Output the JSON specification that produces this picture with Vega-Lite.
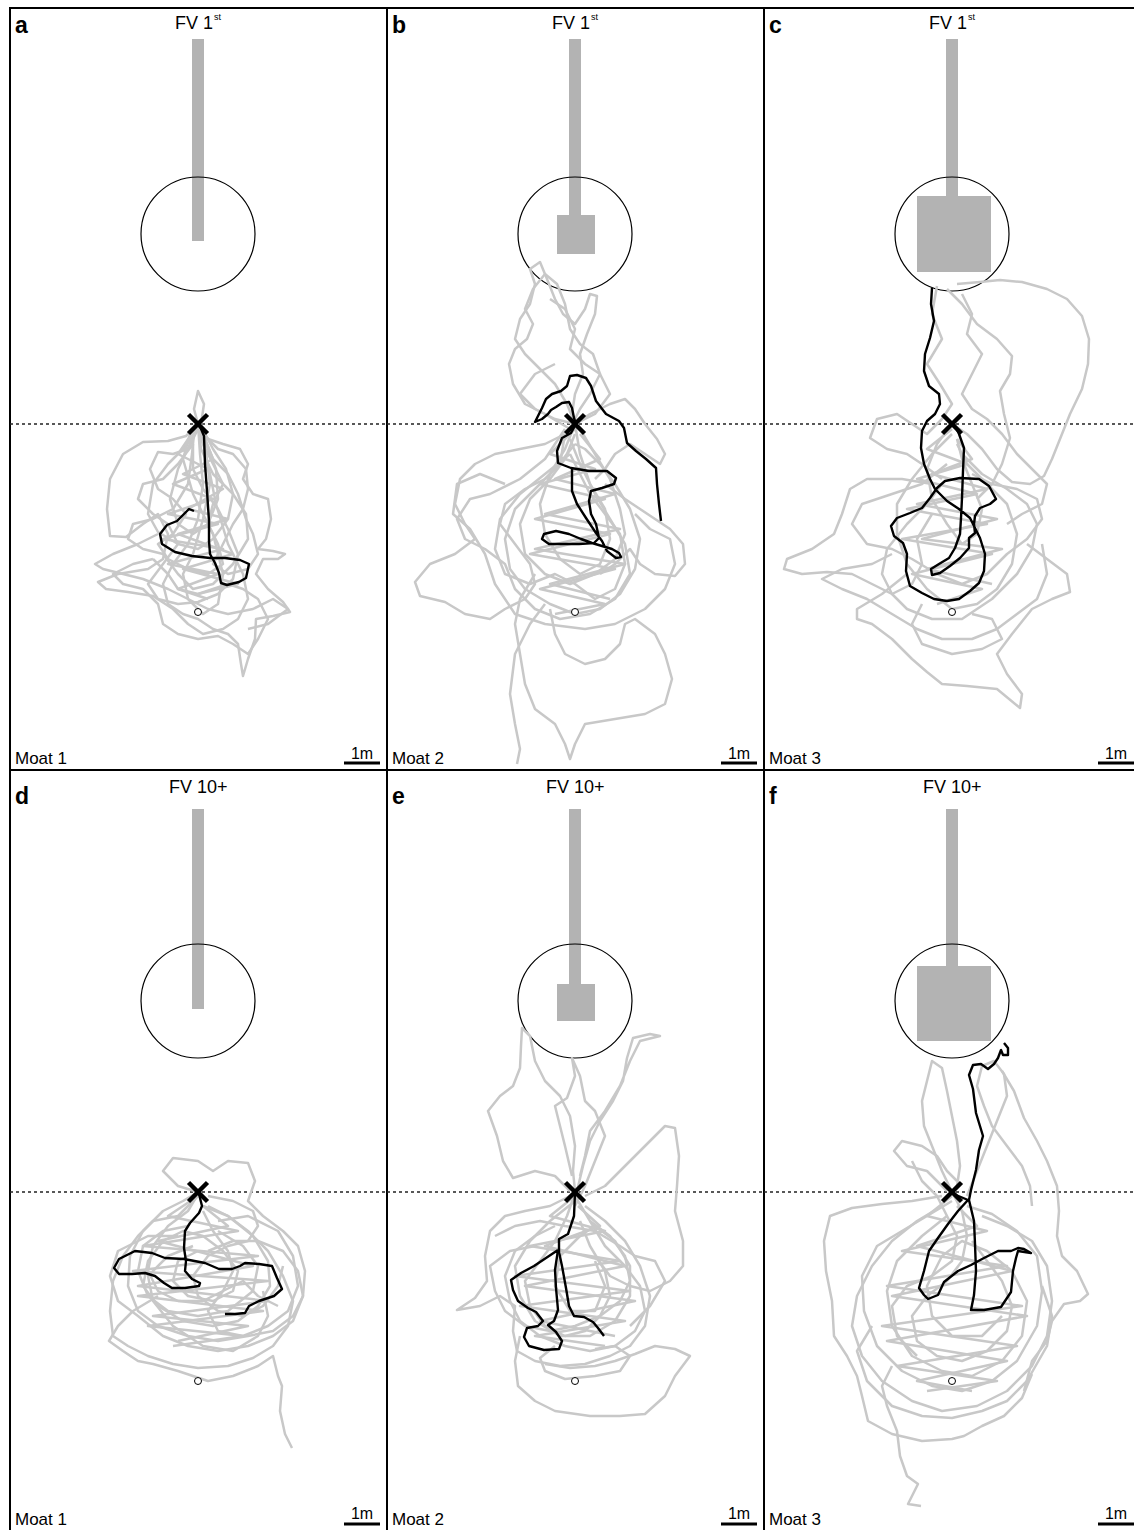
{
"$schema":"https://vega.github.io/schema/vega-lite/v6.json",
"padding":{"left":8,"top":7,"right":0,"bottom":0},
"background":"white",
"config":{"view":{"stroke":"#000","strokeWidth":2},"font":"Liberation Sans","axis":{"disable":true},"facet":{"spacing":0},"header":{"labels":false,"title":null,"labelPadding":0,"titlePadding":0,"labelFontSize":0,"titleFontSize":0}},
"data":{"values":[
{"p":"a","k":"r","x":-6,"x2":6,"y":-385,"y2":-183},
{"p":"b","k":"r","x":-6,"x2":6,"y":-385,"y2":-209},
{"p":"b","k":"r","x":-18,"x2":20,"y":-209,"y2":-170},
{"p":"c","k":"r","x":-6,"x2":6,"y":-385,"y2":-228},
{"p":"c","k":"r","x":-35,"x2":39,"y":-228,"y2":-152},
{"p":"d","k":"r","x":-6,"x2":6,"y":-377,"y2":-177},
{"p":"e","k":"r","x":-6,"x2":6,"y":-377,"y2":-202},
{"p":"e","k":"r","x":-18,"x2":20,"y":-202,"y2":-165},
{"p":"f","k":"r","x":-6,"x2":6,"y":-377,"y2":-220},
{"p":"f","k":"r","x":-35,"x2":39,"y":-220,"y2":-145},
{"p":"a","k":"c","x":0,"y":-190},{"p":"b","k":"c","x":0,"y":-190},{"p":"c","k":"c","x":0,"y":-190},
{"p":"d","k":"c","x":0,"y":-185},{"p":"e","k":"c","x":0,"y":-185},{"p":"f","k":"c","x":0,"y":-185},
{"p":"a","k":"d","x":-188,"x2":189,"y":0},{"p":"b","k":"d","x":-188,"x2":189,"y":0},{"p":"c","k":"d","x":-188,"x2":189,"y":0},
{"p":"d","k":"d","x":-188,"x2":189,"y":6},{"p":"e","k":"d","x":-188,"x2":189,"y":6},{"p":"f","k":"d","x":-188,"x2":189,"y":6},
{"p":"a","k":"x","x":0,"y":0},{"p":"b","k":"x","x":0,"y":0},{"p":"c","k":"x","x":0,"y":0},
{"p":"d","k":"x","x":0,"y":6},{"p":"e","k":"x","x":0,"y":6},{"p":"f","k":"x","x":0,"y":6},
{"p":"a","k":"o","x":0,"y":188},{"p":"b","k":"o","x":0,"y":188},{"p":"c","k":"o","x":0,"y":188},
{"p":"d","k":"o","x":0,"y":195},{"p":"e","k":"o","x":0,"y":195},{"p":"f","k":"o","x":0,"y":195},
{"p":"a","k":"s","x":146,"x2":182,"y":339},{"p":"b","k":"s","x":146,"x2":182,"y":339},{"p":"c","k":"s","x":146,"x2":182,"y":339},
{"p":"d","k":"s","x":146,"x2":182,"y":338},{"p":"e","k":"s","x":146,"x2":182,"y":338},{"p":"f","k":"s","x":146,"x2":182,"y":338},
{"p":"a","k":"L","x":-183,"y":-391,"t":"a"},{"p":"b","k":"L","x":-183,"y":-391,"t":"b"},{"p":"c","k":"L","x":-183,"y":-391,"t":"c"},
{"p":"d","k":"L","x":-183,"y":-382,"t":"d"},{"p":"e","k":"L","x":-183,"y":-382,"t":"e"},{"p":"f","k":"L","x":-183,"y":-382,"t":"f"},
{"p":"a","k":"T","x":-23,"y":-395,"t":"FV 1"},{"p":"b","k":"T","x":-23,"y":-395,"t":"FV 1"},{"p":"c","k":"T","x":-23,"y":-395,"t":"FV 1"},
{"p":"d","k":"T","x":-29,"y":-393,"t":"FV 10+"},{"p":"e","k":"T","x":-29,"y":-393,"t":"FV 10+"},{"p":"f","k":"T","x":-29,"y":-393,"t":"FV 10+"},
{"p":"a","k":"S","x":16,"y":-404,"t":"st"},{"p":"b","k":"S","x":16,"y":-404,"t":"st"},{"p":"c","k":"S","x":16,"y":-404,"t":"st"},
{"p":"a","k":"M","x":-183,"y":340,"t":"Moat 1"},{"p":"b","k":"M","x":-183,"y":340,"t":"Moat 2"},{"p":"c","k":"M","x":-183,"y":340,"t":"Moat 3"},
{"p":"d","k":"M","x":-183,"y":339,"t":"Moat 1"},{"p":"e","k":"M","x":-183,"y":339,"t":"Moat 2"},{"p":"f","k":"M","x":-183,"y":339,"t":"Moat 3"},
{"p":"a","k":"U","x":164,"y":335,"t":"1m"},{"p":"b","k":"U","x":164,"y":335,"t":"1m"},{"p":"c","k":"U","x":164,"y":335,"t":"1m"},
{"p":"d","k":"U","x":164,"y":333,"t":"1m"},{"p":"e","k":"U","x":164,"y":333,"t":"1m"},{"p":"f","k":"U","x":164,"y":333,"t":"1m"},

{"p":"a","i":1,"x":0,"y":0},{"p":"a","i":1,"x":-4,"y":-15},{"p":"a","i":1,"x":0,"y":-33},{"p":"a","i":1,"x":6,"y":-20},{"p":"a","i":1,"x":3,"y":0},{"p":"a","i":1,"x":8,"y":30},{"p":"a","i":1,"x":12,"y":60},{"p":"a","i":1,"x":5,"y":95},{"p":"a","i":1,"x":-5,"y":130},{"p":"a","i":1,"x":-15,"y":150},{"p":"a","i":1,"x":-10,"y":175},{"p":"a","i":1,"x":5,"y":190},{"p":"a","i":1,"x":20,"y":180},{"p":"a","i":1,"x":25,"y":150},{"p":"a","i":1,"x":15,"y":110},{"p":"a","i":1,"x":-5,"y":70},{"p":"a","i":1,"x":-15,"y":35},{"p":"a","i":1,"x":-8,"y":10},{"p":"a","i":1,"x":0,"y":0},
{"p":"a","i":2,"x":0,"y":0},{"p":"a","i":2,"x":-12,"y":12},{"p":"a","i":2,"x":-30,"y":17},{"p":"a","i":2,"x":-55,"y":18},{"p":"a","i":2,"x":-75,"y":30},{"p":"a","i":2,"x":-88,"y":55},{"p":"a","i":2,"x":-91,"y":85},{"p":"a","i":2,"x":-88,"y":112},{"p":"a","i":2,"x":-72,"y":113},{"p":"a","i":2,"x":-55,"y":100},{"p":"a","i":2,"x":-40,"y":90},{"p":"a","i":2,"x":-30,"y":110},{"p":"a","i":2,"x":-35,"y":135},{"p":"a","i":2,"x":-50,"y":145},{"p":"a","i":2,"x":-80,"y":150},{"p":"a","i":2,"x":-100,"y":158},{"p":"a","i":2,"x":-92,"y":165},{"p":"a","i":2,"x":-70,"y":168},{"p":"a","i":2,"x":-45,"y":172},{"p":"a","i":2,"x":-25,"y":185},{"p":"a","i":2,"x":-10,"y":200},{"p":"a","i":2,"x":5,"y":210},{"p":"a","i":2,"x":25,"y":205},{"p":"a","i":2,"x":40,"y":195},{"p":"a","i":2,"x":50,"y":175},{"p":"a","i":2,"x":45,"y":150},{"p":"a","i":2,"x":30,"y":120},{"p":"a","i":2,"x":18,"y":80},{"p":"a","i":2,"x":10,"y":40},{"p":"a","i":2,"x":3,"y":10},
{"p":"a","i":3,"x":0,"y":0},{"p":"a","i":3,"x":10,"y":15},{"p":"a","i":3,"x":25,"y":20},{"p":"a","i":3,"x":42,"y":25},{"p":"a","i":3,"x":50,"y":40},{"p":"a","i":3,"x":45,"y":55},{"p":"a","i":3,"x":55,"y":70},{"p":"a","i":3,"x":70,"y":75},{"p":"a","i":3,"x":73,"y":95},{"p":"a","i":3,"x":68,"y":115},{"p":"a","i":3,"x":60,"y":125},{"p":"a","i":3,"x":75,"y":127},{"p":"a","i":3,"x":87,"y":130},{"p":"a","i":3,"x":80,"y":135},{"p":"a","i":3,"x":65,"y":135},{"p":"a","i":3,"x":58,"y":150},{"p":"a","i":3,"x":70,"y":165},{"p":"a","i":3,"x":85,"y":178},{"p":"a","i":3,"x":92,"y":188},{"p":"a","i":3,"x":75,"y":192},{"p":"a","i":3,"x":58,"y":195},{"p":"a","i":3,"x":57,"y":215},{"p":"a","i":3,"x":50,"y":235},{"p":"a","i":3,"x":45,"y":252},{"p":"a","i":3,"x":43,"y":240},{"p":"a","i":3,"x":40,"y":220},{"p":"a","i":3,"x":30,"y":210},{"p":"a","i":3,"x":15,"y":205},{"p":"a","i":3,"x":0,"y":195},{"p":"a","i":3,"x":-15,"y":190},{"p":"a","i":3,"x":-30,"y":180},{"p":"a","i":3,"x":-35,"y":160},{"p":"a","i":3,"x":-25,"y":140},{"p":"a","i":3,"x":-10,"y":120},{"p":"a","i":3,"x":0,"y":95},{"p":"a","i":3,"x":5,"y":60},{"p":"a","i":3,"x":2,"y":30},{"p":"a","i":3,"x":0,"y":0},
{"p":"a","i":4,"x":-5,"y":20},{"p":"a","i":4,"x":-20,"y":40},{"p":"a","i":4,"x":-35,"y":55},{"p":"a","i":4,"x":-55,"y":60},{"p":"a","i":4,"x":-60,"y":75},{"p":"a","i":4,"x":-45,"y":90},{"p":"a","i":4,"x":-30,"y":100},{"p":"a","i":4,"x":-20,"y":120},{"p":"a","i":4,"x":-35,"y":140},{"p":"a","i":4,"x":-50,"y":160},{"p":"a","i":4,"x":-40,"y":175},{"p":"a","i":4,"x":-20,"y":180},{"p":"a","i":4,"x":0,"y":178},{"p":"a","i":4,"x":20,"y":170},{"p":"a","i":4,"x":35,"y":155},{"p":"a","i":4,"x":40,"y":130},{"p":"a","i":4,"x":30,"y":105},{"p":"a","i":4,"x":20,"y":85},{"p":"a","i":4,"x":5,"y":65},{"p":"a","i":4,"x":-5,"y":45},{"p":"a","i":4,"x":-5,"y":20},
{"p":"a","i":5,"x":-45,"y":135},{"p":"a","i":5,"x":-65,"y":140},{"p":"a","i":5,"x":-85,"y":150},{"p":"a","i":5,"x":-75,"y":160},{"p":"a","i":5,"x":-55,"y":165},{"p":"a","i":5,"x":-40,"y":180},{"p":"a","i":5,"x":-35,"y":200},{"p":"a","i":5,"x":-20,"y":210},{"p":"a","i":5,"x":0,"y":215},{"p":"a","i":5,"x":20,"y":212},{"p":"a","i":5,"x":35,"y":220},{"p":"a","i":5,"x":50,"y":230},{"p":"a","i":5,"x":60,"y":215},{"p":"a","i":5,"x":70,"y":195},{"p":"a","i":5,"x":60,"y":175},{"p":"a","i":5,"x":45,"y":165},{"p":"a","i":5,"x":30,"y":160},{"p":"a","i":5,"x":15,"y":165},{"p":"a","i":5,"x":0,"y":170},{"p":"a","i":5,"x":-20,"y":165},{"p":"a","i":5,"x":-30,"y":150},{"p":"a","i":5,"x":-45,"y":135},
{"p":"a","i":6,"x":5,"y":10},{"p":"a","i":6,"x":20,"y":25},{"p":"a","i":6,"x":35,"y":30},{"p":"a","i":6,"x":48,"y":45},{"p":"a","i":6,"x":50,"y":65},{"p":"a","i":6,"x":45,"y":85},{"p":"a","i":6,"x":35,"y":100},{"p":"a","i":6,"x":25,"y":120},{"p":"a","i":6,"x":15,"y":140},{"p":"a","i":6,"x":30,"y":150},{"p":"a","i":6,"x":50,"y":145},{"p":"a","i":6,"x":60,"y":130},{"p":"a","i":6,"x":55,"y":110},{"p":"a","i":6,"x":48,"y":95},{"p":"a","i":6,"x":40,"y":70},{"p":"a","i":6,"x":30,"y":50},{"p":"a","i":6,"x":15,"y":35},{"p":"a","i":6,"x":5,"y":10},
{"p":"a","i":7,"x":0,"y":5},{"p":"a","i":7,"x":-10,"y":25},{"p":"a","i":7,"x":-25,"y":30},{"p":"a","i":7,"x":-40,"y":28},{"p":"a","i":7,"x":-48,"y":45},{"p":"a","i":7,"x":-40,"y":65},{"p":"a","i":7,"x":-25,"y":75},{"p":"a","i":7,"x":-12,"y":90},{"p":"a","i":7,"x":-25,"y":110},{"p":"a","i":7,"x":-40,"y":120},{"p":"a","i":7,"x":-30,"y":135},{"p":"a","i":7,"x":-10,"y":145},{"p":"a","i":7,"x":10,"y":150},{"p":"a","i":7,"x":25,"y":140},{"p":"a","i":7,"x":20,"y":120},{"p":"a","i":7,"x":10,"y":100},{"p":"a","i":7,"x":15,"y":80},{"p":"a","i":7,"x":25,"y":60},{"p":"a","i":7,"x":15,"y":40},{"p":"a","i":7,"x":5,"y":20},{"p":"a","i":7,"x":0,"y":5},
{"p":"a","i":8,"x":0,"y":0},{"p":"a","i":8,"x":-8,"y":20},{"p":"a","i":8,"x":-20,"y":45},{"p":"a","i":8,"x":-28,"y":75},{"p":"a","i":8,"x":-20,"y":100},{"p":"a","i":8,"x":-5,"y":110},{"p":"a","i":8,"x":10,"y":100},{"p":"a","i":8,"x":20,"y":75},{"p":"a","i":8,"x":18,"y":45},{"p":"a","i":8,"x":8,"y":20},{"p":"a","i":8,"x":0,"y":0},
{"p":"a","i":9,"x":2,"y":0},{"p":"a","i":9,"x":15,"y":25},{"p":"a","i":9,"x":28,"y":45},{"p":"a","i":9,"x":35,"y":70},{"p":"a","i":9,"x":30,"y":95},{"p":"a","i":9,"x":15,"y":115},{"p":"a","i":9,"x":0,"y":125},{"p":"a","i":9,"x":-20,"y":120},{"p":"a","i":9,"x":-40,"y":108},{"p":"a","i":9,"x":-50,"y":90},{"p":"a","i":9,"x":-45,"y":60},{"p":"a","i":9,"x":-30,"y":40},{"p":"a","i":9,"x":-12,"y":22},{"p":"a","i":9,"x":0,"y":5},
{"p":"a","i":10,"x":-40,"y":110},{"p":"a","i":10,"x":-60,"y":120},{"p":"a","i":10,"x":-85,"y":130},{"p":"a","i":10,"x":-103,"y":140},{"p":"a","i":10,"x":-95,"y":145},{"p":"a","i":10,"x":-75,"y":150},{"p":"a","i":10,"x":-55,"y":155},{"p":"a","i":10,"x":-30,"y":165},{"p":"a","i":10,"x":-10,"y":175},{"p":"a","i":10,"x":10,"y":185},{"p":"a","i":10,"x":30,"y":190},{"p":"a","i":10,"x":55,"y":185},{"p":"a","i":10,"x":75,"y":175},{"p":"a","i":10,"x":90,"y":185},{"p":"a","i":10,"x":70,"y":200},{"p":"a","i":10,"x":50,"y":205},
{"p":"a","i":11,"x":-3,"y":0},{"p":"a","i":11,"x":-6,"y":30},{"p":"a","i":11,"x":-10,"y":60},{"p":"a","i":11,"x":-25,"y":85},{"p":"a","i":11,"x":-45,"y":95},{"p":"a","i":11,"x":-65,"y":100},{"p":"a","i":11,"x":-70,"y":115},{"p":"a","i":11,"x":-55,"y":125},{"p":"a","i":11,"x":-35,"y":130},{"p":"a","i":11,"x":-20,"y":150},{"p":"a","i":11,"x":-5,"y":165},{"p":"a","i":11,"x":15,"y":160},{"p":"a","i":11,"x":35,"y":140},{"p":"a","i":11,"x":50,"y":115},{"p":"a","i":11,"x":48,"y":90},{"p":"a","i":11,"x":35,"y":70},{"p":"a","i":11,"x":15,"y":50},{"p":"a","i":11,"x":3,"y":25},{"p":"a","i":11,"x":0,"y":0},
{"p":"a","i":20,"x":-3,"y":5},{"p":"a","i":20,"x":-20,"y":30},{"p":"a","i":20,"x":10,"y":45},{"p":"a","i":20,"x":-25,"y":60},{"p":"a","i":20,"x":15,"y":75},{"p":"a","i":20,"x":-30,"y":90},{"p":"a","i":20,"x":20,"y":100},{"p":"a","i":20,"x":-35,"y":115},{"p":"a","i":20,"x":25,"y":125},{"p":"a","i":20,"x":-30,"y":140},{"p":"a","i":20,"x":20,"y":150},{"p":"a","i":20,"x":-20,"y":165},{"p":"a","i":20,"x":10,"y":175},
{"p":"a","i":21,"x":3,"y":5},{"p":"a","i":21,"x":15,"y":35},{"p":"a","i":21,"x":-15,"y":50},{"p":"a","i":21,"x":25,"y":65},{"p":"a","i":21,"x":-10,"y":85},{"p":"a","i":21,"x":30,"y":95},{"p":"a","i":21,"x":-20,"y":110},{"p":"a","i":21,"x":35,"y":130},{"p":"a","i":21,"x":-15,"y":145},{"p":"a","i":21,"x":40,"y":160},{"p":"a","i":21,"x":0,"y":170},
{"p":"a","i":0,"x":1,"y":0},{"p":"a","i":0,"x":6,"y":12},{"p":"a","i":0,"x":7,"y":40},{"p":"a","i":0,"x":9,"y":67},{"p":"a","i":0,"x":11,"y":97},{"p":"a","i":0,"x":11,"y":117},{"p":"a","i":0,"x":12,"y":130},{"p":"a","i":0,"x":17,"y":139},{"p":"a","i":0,"x":21,"y":149},{"p":"a","i":0,"x":23,"y":159},{"p":"a","i":0,"x":29,"y":161},{"p":"a","i":0,"x":41,"y":158},{"p":"a","i":0,"x":48,"y":154},{"p":"a","i":0,"x":51,"y":140},{"p":"a","i":0,"x":42,"y":136},{"p":"a","i":0,"x":27,"y":134},{"p":"a","i":0,"x":12,"y":134},{"p":"a","i":0,"x":-6,"y":132},{"p":"a","i":0,"x":-23,"y":128},{"p":"a","i":0,"x":-36,"y":120},{"p":"a","i":0,"x":-38,"y":110},{"p":"a","i":0,"x":-31,"y":101},{"p":"a","i":0,"x":-21,"y":97},{"p":"a","i":0,"x":-14,"y":90},{"p":"a","i":0,"x":-9,"y":85},{"p":"a","i":0,"x":-4,"y":87},

{"p":"b","i":1,"x":0,"y":0},{"p":"b","i":1,"x":-8,"y":-20},{"p":"b","i":1,"x":-20,"y":-40},{"p":"b","i":1,"x":-35,"y":-55},{"p":"b","i":1,"x":-50,"y":-70},{"p":"b","i":1,"x":-60,"y":-85},{"p":"b","i":1,"x":-55,"y":-105},{"p":"b","i":1,"x":-45,"y":-120},{"p":"b","i":1,"x":-40,"y":-140},{"p":"b","i":1,"x":-45,"y":-155},{"p":"b","i":1,"x":-35,"y":-162},{"p":"b","i":1,"x":-28,"y":-145},{"p":"b","i":1,"x":-20,"y":-125},{"p":"b","i":1,"x":-12,"y":-110},{"p":"b","i":1,"x":0,"y":-100},{"p":"b","i":1,"x":10,"y":-115},{"p":"b","i":1,"x":15,"y":-130},{"p":"b","i":1,"x":22,"y":-128},{"p":"b","i":1,"x":20,"y":-110},{"p":"b","i":1,"x":12,"y":-90},{"p":"b","i":1,"x":5,"y":-70},{"p":"b","i":1,"x":8,"y":-50},{"p":"b","i":1,"x":0,"y":-30},{"p":"b","i":1,"x":-3,"y":-10},{"p":"b","i":1,"x":0,"y":0},
{"p":"b","i":2,"x":-5,"y":5},{"p":"b","i":2,"x":-30,"y":-10},{"p":"b","i":2,"x":-50,"y":-20},{"p":"b","i":2,"x":-62,"y":-40},{"p":"b","i":2,"x":-66,"y":-60},{"p":"b","i":2,"x":-60,"y":-75},{"p":"b","i":2,"x":-48,"y":-85},{"p":"b","i":2,"x":-42,"y":-100},{"p":"b","i":2,"x":-50,"y":-115},{"p":"b","i":2,"x":-42,"y":-135},{"p":"b","i":2,"x":-30,"y":-150},{"p":"b","i":2,"x":-18,"y":-140},{"p":"b","i":2,"x":-10,"y":-120},{"p":"b","i":2,"x":-5,"y":-95},{"p":"b","i":2,"x":5,"y":-80},{"p":"b","i":2,"x":18,"y":-70},{"p":"b","i":2,"x":25,"y":-50},{"p":"b","i":2,"x":15,"y":-30},{"p":"b","i":2,"x":5,"y":-15},{"p":"b","i":2,"x":-5,"y":5},
{"p":"b","i":3,"x":0,"y":0},{"p":"b","i":3,"x":15,"y":-10},{"p":"b","i":3,"x":35,"y":-20},{"p":"b","i":3,"x":50,"y":-25},{"p":"b","i":3,"x":60,"y":-15},{"p":"b","i":3,"x":70,"y":0},{"p":"b","i":3,"x":82,"y":15},{"p":"b","i":3,"x":90,"y":30},{"p":"b","i":3,"x":85,"y":40},{"p":"b","i":3,"x":70,"y":30},{"p":"b","i":3,"x":55,"y":20},{"p":"b","i":3,"x":40,"y":30},{"p":"b","i":3,"x":30,"y":45},{"p":"b","i":3,"x":20,"y":55},
{"p":"b","i":4,"x":-10,"y":10},{"p":"b","i":4,"x":-30,"y":20},{"p":"b","i":4,"x":-55,"y":25},{"p":"b","i":4,"x":-80,"y":30},{"p":"b","i":4,"x":-100,"y":40},{"p":"b","i":4,"x":-115,"y":55},{"p":"b","i":4,"x":-120,"y":80},{"p":"b","i":4,"x":-110,"y":100},{"p":"b","i":4,"x":-100,"y":115},{"p":"b","i":4,"x":-120,"y":130},{"p":"b","i":4,"x":-145,"y":140},{"p":"b","i":4,"x":-160,"y":158},{"p":"b","i":4,"x":-155,"y":172},{"p":"b","i":4,"x":-130,"y":178},{"p":"b","i":4,"x":-110,"y":190},{"p":"b","i":4,"x":-85,"y":195},{"p":"b","i":4,"x":-70,"y":185},{"p":"b","i":4,"x":-50,"y":175},{"p":"b","i":4,"x":-40,"y":160},{"p":"b","i":4,"x":-45,"y":140},{"p":"b","i":4,"x":-60,"y":120},{"p":"b","i":4,"x":-75,"y":100},{"p":"b","i":4,"x":-70,"y":80},{"p":"b","i":4,"x":-50,"y":65},{"p":"b","i":4,"x":-30,"y":55},{"p":"b","i":4,"x":-15,"y":40},{"p":"b","i":4,"x":-10,"y":10},
{"p":"b","i":5,"x":0,"y":20},{"p":"b","i":5,"x":-20,"y":45},{"p":"b","i":5,"x":-40,"y":65},{"p":"b","i":5,"x":-60,"y":85},{"p":"b","i":5,"x":-70,"y":115},{"p":"b","i":5,"x":-65,"y":145},{"p":"b","i":5,"x":-50,"y":165},{"p":"b","i":5,"x":-25,"y":180},{"p":"b","i":5,"x":0,"y":190},{"p":"b","i":5,"x":25,"y":185},{"p":"b","i":5,"x":45,"y":170},{"p":"b","i":5,"x":60,"y":145},{"p":"b","i":5,"x":65,"y":115},{"p":"b","i":5,"x":55,"y":85},{"p":"b","i":5,"x":40,"y":60},{"p":"b","i":5,"x":25,"y":40},{"p":"b","i":5,"x":10,"y":25},{"p":"b","i":5,"x":0,"y":20},
{"p":"b","i":6,"x":-5,"y":30},{"p":"b","i":6,"x":-30,"y":50},{"p":"b","i":6,"x":-55,"y":70},{"p":"b","i":6,"x":-75,"y":95},{"p":"b","i":6,"x":-80,"y":125},{"p":"b","i":6,"x":-70,"y":150},{"p":"b","i":6,"x":-45,"y":160},{"p":"b","i":6,"x":-20,"y":150},{"p":"b","i":6,"x":0,"y":160},{"p":"b","i":6,"x":20,"y":175},{"p":"b","i":6,"x":40,"y":165},{"p":"b","i":6,"x":50,"y":140},{"p":"b","i":6,"x":45,"y":110},{"p":"b","i":6,"x":30,"y":90},{"p":"b","i":6,"x":15,"y":70},{"p":"b","i":6,"x":5,"y":50},{"p":"b","i":6,"x":-5,"y":30},
{"p":"b","i":7,"x":30,"y":60},{"p":"b","i":7,"x":50,"y":75},{"p":"b","i":7,"x":65,"y":85},{"p":"b","i":7,"x":80,"y":95},{"p":"b","i":7,"x":95,"y":105},{"p":"b","i":7,"x":108,"y":120},{"p":"b","i":7,"x":110,"y":140},{"p":"b","i":7,"x":100,"y":152},{"p":"b","i":7,"x":80,"y":150},{"p":"b","i":7,"x":65,"y":140},{"p":"b","i":7,"x":55,"y":125},{"p":"b","i":7,"x":40,"y":140},{"p":"b","i":7,"x":25,"y":150},
{"p":"b","i":8,"x":-40,"y":150},{"p":"b","i":8,"x":-55,"y":175},{"p":"b","i":8,"x":-60,"y":200},{"p":"b","i":8,"x":-55,"y":230},{"p":"b","i":8,"x":-50,"y":260},{"p":"b","i":8,"x":-40,"y":285},{"p":"b","i":8,"x":-20,"y":300},{"p":"b","i":8,"x":-10,"y":320},{"p":"b","i":8,"x":-5,"y":335},{"p":"b","i":8,"x":0,"y":320},{"p":"b","i":8,"x":10,"y":300},{"p":"b","i":8,"x":40,"y":295},{"p":"b","i":8,"x":70,"y":290},{"p":"b","i":8,"x":90,"y":280},{"p":"b","i":8,"x":97,"y":255},{"p":"b","i":8,"x":90,"y":230},{"p":"b","i":8,"x":80,"y":210},{"p":"b","i":8,"x":60,"y":195},{"p":"b","i":8,"x":50,"y":200},{"p":"b","i":8,"x":45,"y":220},{"p":"b","i":8,"x":30,"y":235},{"p":"b","i":8,"x":10,"y":240},{"p":"b","i":8,"x":-10,"y":230},{"p":"b","i":8,"x":-20,"y":210},{"p":"b","i":8,"x":-25,"y":185},
{"p":"b","i":9,"x":-30,"y":180},{"p":"b","i":9,"x":-45,"y":200},{"p":"b","i":9,"x":-60,"y":230},{"p":"b","i":9,"x":-65,"y":270},{"p":"b","i":9,"x":-60,"y":300},{"p":"b","i":9,"x":-55,"y":325},{"p":"b","i":9,"x":-58,"y":340},
{"p":"b","i":10,"x":-70,"y":60},{"p":"b","i":10,"x":-95,"y":50},{"p":"b","i":10,"x":-118,"y":60},{"p":"b","i":10,"x":-122,"y":90},{"p":"b","i":10,"x":-105,"y":105},{"p":"b","i":10,"x":-90,"y":130},{"p":"b","i":10,"x":-80,"y":160},{"p":"b","i":10,"x":-60,"y":190},{"p":"b","i":10,"x":-30,"y":200},{"p":"b","i":10,"x":10,"y":205},{"p":"b","i":10,"x":40,"y":200},{"p":"b","i":10,"x":70,"y":185},{"p":"b","i":10,"x":90,"y":165},{"p":"b","i":10,"x":100,"y":140},{"p":"b","i":10,"x":95,"y":115},{"p":"b","i":10,"x":75,"y":105},{"p":"b","i":10,"x":60,"y":90},
{"p":"b","i":11,"x":0,"y":0},{"p":"b","i":11,"x":-10,"y":25},{"p":"b","i":11,"x":-25,"y":50},{"p":"b","i":11,"x":-35,"y":80},{"p":"b","i":11,"x":-30,"y":110},{"p":"b","i":11,"x":-15,"y":135},{"p":"b","i":11,"x":5,"y":150},{"p":"b","i":11,"x":25,"y":140},{"p":"b","i":11,"x":35,"y":115},{"p":"b","i":11,"x":30,"y":85},{"p":"b","i":11,"x":15,"y":60},{"p":"b","i":11,"x":5,"y":30},{"p":"b","i":11,"x":0,"y":0},
{"p":"b","i":12,"x":-10,"y":5},{"p":"b","i":12,"x":-30,"y":35},{"p":"b","i":12,"x":-55,"y":55},{"p":"b","i":12,"x":-85,"y":70},{"p":"b","i":12,"x":-105,"y":75},{"p":"b","i":12,"x":-118,"y":95},{"p":"b","i":12,"x":-110,"y":115},{"p":"b","i":12,"x":-90,"y":125},{"p":"b","i":12,"x":-70,"y":140},{"p":"b","i":12,"x":-60,"y":165},{"p":"b","i":12,"x":-40,"y":185},{"p":"b","i":12,"x":-15,"y":195},{"p":"b","i":12,"x":15,"y":190},{"p":"b","i":12,"x":40,"y":175},{"p":"b","i":12,"x":55,"y":150},{"p":"b","i":12,"x":50,"y":120},{"p":"b","i":12,"x":35,"y":95},{"p":"b","i":12,"x":20,"y":70},{"p":"b","i":12,"x":5,"y":40},{"p":"b","i":12,"x":-5,"y":15},
{"p":"b","i":13,"x":5,"y":5},{"p":"b","i":13,"x":20,"y":30},{"p":"b","i":13,"x":35,"y":55},{"p":"b","i":13,"x":45,"y":85},{"p":"b","i":13,"x":50,"y":110},{"p":"b","i":13,"x":40,"y":135},{"p":"b","i":13,"x":20,"y":150},{"p":"b","i":13,"x":-5,"y":160},{"p":"b","i":13,"x":-30,"y":150},{"p":"b","i":13,"x":-50,"y":130},{"p":"b","i":13,"x":-55,"y":100},{"p":"b","i":13,"x":-45,"y":75},{"p":"b","i":13,"x":-25,"y":55},{"p":"b","i":13,"x":-10,"y":35},{"p":"b","i":13,"x":0,"y":10},
{"p":"b","i":14,"x":-20,"y":-60},{"p":"b","i":14,"x":-40,"y":-50},{"p":"b","i":14,"x":-55,"y":-30},{"p":"b","i":14,"x":-40,"y":-15},{"p":"b","i":14,"x":-20,"y":-5},{"p":"b","i":14,"x":0,"y":0},{"p":"b","i":14,"x":20,"y":-10},{"p":"b","i":14,"x":35,"y":-30},{"p":"b","i":14,"x":25,"y":-50},{"p":"b","i":14,"x":10,"y":-60},{"p":"b","i":14,"x":-5,"y":-75},{"p":"b","i":14,"x":0,"y":-95},{"p":"b","i":14,"x":-10,"y":-115},{"p":"b","i":14,"x":-25,"y":-125},
{"p":"b","i":20,"x":0,"y":5},{"p":"b","i":20,"x":-25,"y":30},{"p":"b","i":20,"x":20,"y":45},{"p":"b","i":20,"x":-35,"y":60},{"p":"b","i":20,"x":30,"y":75},{"p":"b","i":20,"x":-40,"y":95},{"p":"b","i":20,"x":35,"y":110},{"p":"b","i":20,"x":-45,"y":130},{"p":"b","i":20,"x":40,"y":145},{"p":"b","i":20,"x":-35,"y":165},{"p":"b","i":20,"x":30,"y":180},{"p":"b","i":20,"x":-20,"y":190},
{"p":"b","i":21,"x":5,"y":10},{"p":"b","i":21,"x":25,"y":35},{"p":"b","i":21,"x":-20,"y":55},{"p":"b","i":21,"x":40,"y":70},{"p":"b","i":21,"x":-30,"y":90},{"p":"b","i":21,"x":45,"y":105},{"p":"b","i":21,"x":-40,"y":125},{"p":"b","i":21,"x":50,"y":140},{"p":"b","i":21,"x":-25,"y":160},{"p":"b","i":21,"x":35,"y":175},
{"p":"b","i":0,"x":86,"y":97},{"p":"b","i":0,"x":84,"y":80},{"p":"b","i":0,"x":82,"y":60},{"p":"b","i":0,"x":81,"y":44},{"p":"b","i":0,"x":71,"y":35},{"p":"b","i":0,"x":61,"y":27},{"p":"b","i":0,"x":52,"y":19},{"p":"b","i":0,"x":49,"y":4},{"p":"b","i":0,"x":44,"y":-3},{"p":"b","i":0,"x":31,"y":-10},{"p":"b","i":0,"x":21,"y":-23},{"p":"b","i":0,"x":16,"y":-38},{"p":"b","i":0,"x":11,"y":-46},{"p":"b","i":0,"x":2,"y":-49},{"p":"b","i":0,"x":-5,"y":-48},{"p":"b","i":0,"x":-8,"y":-38},{"p":"b","i":0,"x":-14,"y":-33},{"p":"b","i":0,"x":-23,"y":-30},{"p":"b","i":0,"x":-29,"y":-25},{"p":"b","i":0,"x":-33,"y":-16},{"p":"b","i":0,"x":-36,"y":-10},{"p":"b","i":0,"x":-40,"y":-2},{"p":"b","i":0,"x":-33,"y":-5},{"p":"b","i":0,"x":-27,"y":-10},{"p":"b","i":0,"x":-24,"y":-14},{"p":"b","i":0,"x":-19,"y":-17},{"p":"b","i":0,"x":-13,"y":-21},{"p":"b","i":0,"x":-6,"y":-22},{"p":"b","i":0,"x":-3,"y":-16},{"p":"b","i":0,"x":-1,"y":-6},{"p":"b","i":0,"x":1,"y":0},{"p":"b","i":0,"x":-4,"y":9},{"p":"b","i":0,"x":-13,"y":14},{"p":"b","i":0,"x":-18,"y":27},{"p":"b","i":0,"x":-17,"y":39},{"p":"b","i":0,"x":-4,"y":44},{"p":"b","i":0,"x":14,"y":47},{"p":"b","i":0,"x":32,"y":47},{"p":"b","i":0,"x":41,"y":54},{"p":"b","i":0,"x":39,"y":60},{"p":"b","i":0,"x":27,"y":64},{"p":"b","i":0,"x":16,"y":67},{"p":"b","i":0,"x":14,"y":77},{"p":"b","i":0,"x":16,"y":90},{"p":"b","i":0,"x":21,"y":100},{"p":"b","i":0,"x":24,"y":114},{"p":"b","i":0,"x":19,"y":119},{"p":"b","i":0,"x":4,"y":120},{"p":"b","i":0,"x":-13,"y":120},{"p":"b","i":0,"x":-26,"y":120},{"p":"b","i":0,"x":-33,"y":115},{"p":"b","i":0,"x":-31,"y":110},{"p":"b","i":0,"x":-19,"y":107},{"p":"b","i":0,"x":-6,"y":110},{"p":"b","i":0,"x":6,"y":115},{"p":"b","i":0,"x":17,"y":119},{"p":"b","i":0,"x":27,"y":122},{"p":"b","i":0,"x":37,"y":125},{"p":"b","i":0,"x":44,"y":129},{"p":"b","i":0,"x":46,"y":133},{"p":"b","i":0,"x":41,"y":134},{"p":"b","i":0,"x":32,"y":127},{"p":"b","i":0,"x":27,"y":117},{"p":"b","i":0,"x":21,"y":109},{"p":"b","i":0,"x":11,"y":94},{"p":"b","i":0,"x":2,"y":80},{"p":"b","i":0,"x":-3,"y":67},{"p":"b","i":0,"x":-3,"y":54},{"p":"b","i":0,"x":-3,"y":44},

{"p":"c","i":1,"x":5,"y":-140},{"p":"c","i":1,"x":28,"y":-142},{"p":"c","i":1,"x":48,"y":-144},{"p":"c","i":1,"x":70,"y":-142},{"p":"c","i":1,"x":95,"y":-135},{"p":"c","i":1,"x":115,"y":-125},{"p":"c","i":1,"x":130,"y":-108},{"p":"c","i":1,"x":137,"y":-85},{"p":"c","i":1,"x":136,"y":-60},{"p":"c","i":1,"x":130,"y":-35},{"p":"c","i":1,"x":118,"y":-10},{"p":"c","i":1,"x":108,"y":15},{"p":"c","i":1,"x":100,"y":35},{"p":"c","i":1,"x":92,"y":52},{"p":"c","i":1,"x":78,"y":60},{"p":"c","i":1,"x":60,"y":58},{"p":"c","i":1,"x":45,"y":45},{"p":"c","i":1,"x":30,"y":25},{"p":"c","i":1,"x":15,"y":10},{"p":"c","i":1,"x":0,"y":0},
{"p":"c","i":2,"x":-5,"y":-135},{"p":"c","i":2,"x":10,"y":-120},{"p":"c","i":2,"x":25,"y":-100},{"p":"c","i":2,"x":45,"y":-85},{"p":"c","i":2,"x":60,"y":-68},{"p":"c","i":2,"x":58,"y":-50},{"p":"c","i":2,"x":48,"y":-33},{"p":"c","i":2,"x":52,"y":-10},{"p":"c","i":2,"x":58,"y":14},{"p":"c","i":2,"x":50,"y":40},{"p":"c","i":2,"x":40,"y":60},{"p":"c","i":2,"x":25,"y":75},
{"p":"c","i":3,"x":-15,"y":-138},{"p":"c","i":3,"x":-20,"y":-110},{"p":"c","i":3,"x":-10,"y":-85},{"p":"c","i":3,"x":-25,"y":-60},{"p":"c","i":3,"x":-12,"y":-40},{"p":"c","i":3,"x":0,"y":-20},{"p":"c","i":3,"x":-10,"y":-5},{"p":"c","i":3,"x":-25,"y":10},{"p":"c","i":3,"x":-40,"y":0},{"p":"c","i":3,"x":-55,"y":-10},{"p":"c","i":3,"x":-75,"y":-5},{"p":"c","i":3,"x":-82,"y":14},{"p":"c","i":3,"x":-65,"y":25},{"p":"c","i":3,"x":-45,"y":30},{"p":"c","i":3,"x":-30,"y":40},{"p":"c","i":3,"x":-10,"y":55},
{"p":"c","i":4,"x":-20,"y":60},{"p":"c","i":4,"x":-50,"y":55},{"p":"c","i":4,"x":-85,"y":55},{"p":"c","i":4,"x":-102,"y":65},{"p":"c","i":4,"x":-110,"y":90},{"p":"c","i":4,"x":-118,"y":110},{"p":"c","i":4,"x":-140,"y":125},{"p":"c","i":4,"x":-165,"y":135},{"p":"c","i":4,"x":-168,"y":145},{"p":"c","i":4,"x":-150,"y":150},{"p":"c","i":4,"x":-125,"y":148},{"p":"c","i":4,"x":-100,"y":150},{"p":"c","i":4,"x":-80,"y":160},{"p":"c","i":4,"x":-60,"y":170},{"p":"c","i":4,"x":-40,"y":160},{"p":"c","i":4,"x":-30,"y":140},{"p":"c","i":4,"x":-35,"y":115},{"p":"c","i":4,"x":-20,"y":90},
{"p":"c","i":5,"x":-45,"y":150},{"p":"c","i":5,"x":-70,"y":170},{"p":"c","i":5,"x":-95,"y":185},{"p":"c","i":5,"x":-95,"y":195},{"p":"c","i":5,"x":-80,"y":200},{"p":"c","i":5,"x":-60,"y":215},{"p":"c","i":5,"x":-40,"y":235},{"p":"c","i":5,"x":-25,"y":248},{"p":"c","i":5,"x":-10,"y":260},{"p":"c","i":5,"x":15,"y":262},{"p":"c","i":5,"x":45,"y":265},{"p":"c","i":5,"x":68,"y":284},{"p":"c","i":5,"x":70,"y":270},{"p":"c","i":5,"x":55,"y":250},{"p":"c","i":5,"x":45,"y":230},{"p":"c","i":5,"x":60,"y":210},{"p":"c","i":5,"x":80,"y":185},{"p":"c","i":5,"x":100,"y":175},{"p":"c","i":5,"x":118,"y":168},{"p":"c","i":5,"x":115,"y":150},{"p":"c","i":5,"x":95,"y":135},{"p":"c","i":5,"x":75,"y":120},
{"p":"c","i":6,"x":0,"y":10},{"p":"c","i":6,"x":-20,"y":30},{"p":"c","i":6,"x":-40,"y":55},{"p":"c","i":6,"x":-55,"y":80},{"p":"c","i":6,"x":-55,"y":110},{"p":"c","i":6,"x":-45,"y":140},{"p":"c","i":6,"x":-25,"y":165},{"p":"c","i":6,"x":0,"y":185},{"p":"c","i":6,"x":25,"y":180},{"p":"c","i":6,"x":45,"y":165},{"p":"c","i":6,"x":60,"y":140},{"p":"c","i":6,"x":65,"y":110},{"p":"c","i":6,"x":55,"y":80},{"p":"c","i":6,"x":35,"y":60},{"p":"c","i":6,"x":15,"y":40},{"p":"c","i":6,"x":5,"y":20},
{"p":"c","i":7,"x":10,"y":30},{"p":"c","i":7,"x":30,"y":50},{"p":"c","i":7,"x":55,"y":65},{"p":"c","i":7,"x":75,"y":80},{"p":"c","i":7,"x":85,"y":100},{"p":"c","i":7,"x":80,"y":125},{"p":"c","i":7,"x":65,"y":150},{"p":"c","i":7,"x":40,"y":175},{"p":"c","i":7,"x":10,"y":195},{"p":"c","i":7,"x":-20,"y":195},{"p":"c","i":7,"x":-45,"y":185},{"p":"c","i":7,"x":-60,"y":170},{"p":"c","i":7,"x":-70,"y":150},{"p":"c","i":7,"x":-65,"y":125},{"p":"c","i":7,"x":-45,"y":100},{"p":"c","i":7,"x":-25,"y":80},{"p":"c","i":7,"x":-10,"y":60},
{"p":"c","i":8,"x":-30,"y":180},{"p":"c","i":8,"x":-40,"y":200},{"p":"c","i":8,"x":-30,"y":220},{"p":"c","i":8,"x":0,"y":230},{"p":"c","i":8,"x":30,"y":225},{"p":"c","i":8,"x":50,"y":215},{"p":"c","i":8,"x":40,"y":195},{"p":"c","i":8,"x":20,"y":190},
{"p":"c","i":9,"x":0,"y":0},{"p":"c","i":9,"x":-15,"y":20},{"p":"c","i":9,"x":-25,"y":45},{"p":"c","i":9,"x":-20,"y":75},{"p":"c","i":9,"x":-5,"y":100},{"p":"c","i":9,"x":10,"y":120},{"p":"c","i":9,"x":25,"y":110},{"p":"c","i":9,"x":30,"y":85},{"p":"c","i":9,"x":20,"y":60},{"p":"c","i":9,"x":10,"y":35},{"p":"c","i":9,"x":5,"y":15},
{"p":"c","i":10,"x":-5,"y":40},{"p":"c","i":10,"x":-30,"y":60},{"p":"c","i":10,"x":-60,"y":70},{"p":"c","i":10,"x":-90,"y":80},{"p":"c","i":10,"x":-100,"y":100},{"p":"c","i":10,"x":-85,"y":120},{"p":"c","i":10,"x":-60,"y":125},{"p":"c","i":10,"x":-40,"y":135},{"p":"c","i":10,"x":-15,"y":150},{"p":"c","i":10,"x":10,"y":160},{"p":"c","i":10,"x":35,"y":150},{"p":"c","i":10,"x":55,"y":130},{"p":"c","i":10,"x":75,"y":115},{"p":"c","i":10,"x":90,"y":95},{"p":"c","i":10,"x":85,"y":75},{"p":"c","i":10,"x":65,"y":65},{"p":"c","i":10,"x":40,"y":60},{"p":"c","i":10,"x":20,"y":50},
{"p":"c","i":11,"x":10,"y":-130},{"p":"c","i":11,"x":20,"y":-110},{"p":"c","i":11,"x":15,"y":-90},{"p":"c","i":11,"x":30,"y":-70},{"p":"c","i":11,"x":20,"y":-50},{"p":"c","i":11,"x":10,"y":-30},{"p":"c","i":11,"x":20,"y":-15},{"p":"c","i":11,"x":35,"y":-5},{"p":"c","i":11,"x":50,"y":10},{"p":"c","i":11,"x":65,"y":30},{"p":"c","i":11,"x":80,"y":45},{"p":"c","i":11,"x":95,"y":60},{"p":"c","i":11,"x":90,"y":80},{"p":"c","i":11,"x":70,"y":90},{"p":"c","i":11,"x":55,"y":100},
{"p":"c","i":12,"x":-60,"y":130},{"p":"c","i":12,"x":-80,"y":140},{"p":"c","i":12,"x":-110,"y":145},{"p":"c","i":12,"x":-130,"y":155},{"p":"c","i":12,"x":-110,"y":165},{"p":"c","i":12,"x":-85,"y":175},{"p":"c","i":12,"x":-60,"y":190},{"p":"c","i":12,"x":-35,"y":205},{"p":"c","i":12,"x":-10,"y":215},{"p":"c","i":12,"x":20,"y":215},{"p":"c","i":12,"x":45,"y":205},{"p":"c","i":12,"x":65,"y":190},{"p":"c","i":12,"x":85,"y":175},{"p":"c","i":12,"x":95,"y":150},{"p":"c","i":12,"x":90,"y":120},
{"p":"c","i":20,"x":0,"y":5},{"p":"c","i":20,"x":-25,"y":25},{"p":"c","i":20,"x":15,"y":40},{"p":"c","i":20,"x":-35,"y":55},{"p":"c","i":20,"x":25,"y":70},{"p":"c","i":20,"x":-45,"y":85},{"p":"c","i":20,"x":35,"y":100},{"p":"c","i":20,"x":-50,"y":115},{"p":"c","i":20,"x":40,"y":130},{"p":"c","i":20,"x":-40,"y":150},{"p":"c","i":20,"x":30,"y":165},{"p":"c","i":20,"x":-15,"y":180},
{"p":"c","i":21,"x":5,"y":15},{"p":"c","i":21,"x":20,"y":35},{"p":"c","i":21,"x":-20,"y":50},{"p":"c","i":21,"x":35,"y":65},{"p":"c","i":21,"x":-35,"y":80},{"p":"c","i":21,"x":45,"y":95},{"p":"c","i":21,"x":-30,"y":115},{"p":"c","i":21,"x":50,"y":125},{"p":"c","i":21,"x":-25,"y":145},{"p":"c","i":21,"x":40,"y":160},
{"p":"c","i":0,"x":-20,"y":-136},{"p":"c","i":0,"x":-21,"y":-120},{"p":"c","i":0,"x":-18,"y":-103},{"p":"c","i":0,"x":-22,"y":-86},{"p":"c","i":0,"x":-27,"y":-70},{"p":"c","i":0,"x":-28,"y":-53},{"p":"c","i":0,"x":-23,"y":-38},{"p":"c","i":0,"x":-13,"y":-30},{"p":"c","i":0,"x":-12,"y":-20},{"p":"c","i":0,"x":-17,"y":-10},{"p":"c","i":0,"x":-25,"y":-3},{"p":"c","i":0,"x":-30,"y":7},{"p":"c","i":0,"x":-31,"y":24},{"p":"c","i":0,"x":-28,"y":40},{"p":"c","i":0,"x":-22,"y":55},{"p":"c","i":0,"x":-17,"y":65},{"p":"c","i":0,"x":-5,"y":77},{"p":"c","i":0,"x":7,"y":85},{"p":"c","i":0,"x":18,"y":94},{"p":"c","i":0,"x":23,"y":104},{"p":"c","i":0,"x":28,"y":114},{"p":"c","i":0,"x":33,"y":130},{"p":"c","i":0,"x":32,"y":147},{"p":"c","i":0,"x":27,"y":159},{"p":"c","i":0,"x":18,"y":167},{"p":"c","i":0,"x":7,"y":175},{"p":"c","i":0,"x":-5,"y":177},{"p":"c","i":0,"x":-18,"y":175},{"p":"c","i":0,"x":-30,"y":169},{"p":"c","i":0,"x":-42,"y":162},{"p":"c","i":0,"x":-46,"y":147},{"p":"c","i":0,"x":-45,"y":130},{"p":"c","i":0,"x":-49,"y":119},{"p":"c","i":0,"x":-58,"y":112},{"p":"c","i":0,"x":-61,"y":102},{"p":"c","i":0,"x":-55,"y":94},{"p":"c","i":0,"x":-42,"y":89},{"p":"c","i":0,"x":-30,"y":84},{"p":"c","i":0,"x":-22,"y":74},{"p":"c","i":0,"x":-15,"y":64},{"p":"c","i":0,"x":-7,"y":57},{"p":"c","i":0,"x":8,"y":54},{"p":"c","i":0,"x":27,"y":55},{"p":"c","i":0,"x":37,"y":62},{"p":"c","i":0,"x":44,"y":75},{"p":"c","i":0,"x":38,"y":80},{"p":"c","i":0,"x":28,"y":84},{"p":"c","i":0,"x":23,"y":92},{"p":"c","i":0,"x":22,"y":100},{"p":"c","i":0,"x":23,"y":109},{"p":"c","i":0,"x":17,"y":114},{"p":"c","i":0,"x":17,"y":124},{"p":"c","i":0,"x":8,"y":134},{"p":"c","i":0,"x":-2,"y":142},{"p":"c","i":0,"x":-12,"y":149},{"p":"c","i":0,"x":-20,"y":151},{"p":"c","i":0,"x":-21,"y":145},{"p":"c","i":0,"x":-13,"y":140},{"p":"c","i":0,"x":-3,"y":134},{"p":"c","i":0,"x":3,"y":124},{"p":"c","i":0,"x":8,"y":110},{"p":"c","i":0,"x":9,"y":94},{"p":"c","i":0,"x":10,"y":74},{"p":"c","i":0,"x":11,"y":47},{"p":"c","i":0,"x":12,"y":24},{"p":"c","i":0,"x":7,"y":10},{"p":"c","i":0,"x":2,"y":0},

{"p":"d","i":1,"x":0,"y":6},{"p":"d","i":1,"x":-20,"y":0},{"p":"d","i":1,"x":-35,"y":-15},{"p":"d","i":1,"x":-25,"y":-28},{"p":"d","i":1,"x":0,"y":-25},{"p":"d","i":1,"x":15,"y":-15},{"p":"d","i":1,"x":30,"y":-25},{"p":"d","i":1,"x":50,"y":-23},{"p":"d","i":1,"x":57,"y":-5},{"p":"d","i":1,"x":50,"y":15},{"p":"d","i":1,"x":65,"y":30},{"p":"d","i":1,"x":85,"y":45},{"p":"d","i":1,"x":100,"y":60},{"p":"d","i":1,"x":107,"y":85},{"p":"d","i":1,"x":105,"y":110},{"p":"d","i":1,"x":95,"y":130},{"p":"d","i":1,"x":75,"y":145},{"p":"d","i":1,"x":50,"y":150},{"p":"d","i":1,"x":20,"y":155},{"p":"d","i":1,"x":-10,"y":150},{"p":"d","i":1,"x":-40,"y":140},{"p":"d","i":1,"x":-60,"y":125},{"p":"d","i":1,"x":-70,"y":100},{"p":"d","i":1,"x":-68,"y":70},{"p":"d","i":1,"x":-55,"y":45},{"p":"d","i":1,"x":-35,"y":25},{"p":"d","i":1,"x":-15,"y":15},{"p":"d","i":1,"x":0,"y":6},
{"p":"d","i":2,"x":0,"y":10},{"p":"d","i":2,"x":-20,"y":30},{"p":"d","i":2,"x":-45,"y":35},{"p":"d","i":2,"x":-60,"y":50},{"p":"d","i":2,"x":-75,"y":70},{"p":"d","i":2,"x":-85,"y":95},{"p":"d","i":2,"x":-88,"y":125},{"p":"d","i":2,"x":-85,"y":150},{"p":"d","i":2,"x":-70,"y":160},{"p":"d","i":2,"x":-50,"y":170},{"p":"d","i":2,"x":-25,"y":178},{"p":"d","i":2,"x":0,"y":182},{"p":"d","i":2,"x":30,"y":180},{"p":"d","i":2,"x":55,"y":172},{"p":"d","i":2,"x":75,"y":160},{"p":"d","i":2,"x":90,"y":140},{"p":"d","i":2,"x":95,"y":115},{"p":"d","i":2,"x":85,"y":90},{"p":"d","i":2,"x":70,"y":65},{"p":"d","i":2,"x":50,"y":45},{"p":"d","i":2,"x":30,"y":30},{"p":"d","i":2,"x":10,"y":20},
{"p":"d","i":3,"x":5,"y":20},{"p":"d","i":3,"x":30,"y":30},{"p":"d","i":3,"x":55,"y":50},{"p":"d","i":3,"x":70,"y":75},{"p":"d","i":3,"x":72,"y":100},{"p":"d","i":3,"x":60,"y":120},{"p":"d","i":3,"x":40,"y":135},{"p":"d","i":3,"x":15,"y":140},{"p":"d","i":3,"x":-15,"y":135},{"p":"d","i":3,"x":-40,"y":120},{"p":"d","i":3,"x":-55,"y":100},{"p":"d","i":3,"x":-50,"y":75},{"p":"d","i":3,"x":-35,"y":55},{"p":"d","i":3,"x":-15,"y":45},{"p":"d","i":3,"x":5,"y":50},{"p":"d","i":3,"x":25,"y":65},{"p":"d","i":3,"x":40,"y":85},{"p":"d","i":3,"x":35,"y":105},{"p":"d","i":3,"x":15,"y":115},{"p":"d","i":3,"x":-10,"y":110},{"p":"d","i":3,"x":-25,"y":95},{"p":"d","i":3,"x":-20,"y":75},{"p":"d","i":3,"x":0,"y":65},
{"p":"d","i":4,"x":-40,"y":110},{"p":"d","i":4,"x":-65,"y":125},{"p":"d","i":4,"x":-80,"y":140},{"p":"d","i":4,"x":-89,"y":155},{"p":"d","i":4,"x":-75,"y":165},{"p":"d","i":4,"x":-60,"y":175},{"p":"d","i":4,"x":-45,"y":178},{"p":"d","i":4,"x":-20,"y":185},{"p":"d","i":4,"x":10,"y":195},{"p":"d","i":4,"x":35,"y":190},{"p":"d","i":4,"x":60,"y":180},{"p":"d","i":4,"x":75,"y":170},{"p":"d","i":4,"x":80,"y":190},{"p":"d","i":4,"x":84,"y":200},{"p":"d","i":4,"x":82,"y":225},{"p":"d","i":4,"x":87,"y":248},{"p":"d","i":4,"x":94,"y":262},
{"p":"d","i":5,"x":-10,"y":40},{"p":"d","i":5,"x":-35,"y":45},{"p":"d","i":5,"x":-55,"y":60},{"p":"d","i":5,"x":-60,"y":85},{"p":"d","i":5,"x":-50,"y":110},{"p":"d","i":5,"x":-30,"y":125},{"p":"d","i":5,"x":0,"y":130},{"p":"d","i":5,"x":30,"y":125},{"p":"d","i":5,"x":55,"y":105},{"p":"d","i":5,"x":60,"y":80},{"p":"d","i":5,"x":45,"y":60},{"p":"d","i":5,"x":20,"y":45},
{"p":"d","i":6,"x":20,"y":35},{"p":"d","i":6,"x":50,"y":30},{"p":"d","i":6,"x":80,"y":45},{"p":"d","i":6,"x":95,"y":70},{"p":"d","i":6,"x":100,"y":100},{"p":"d","i":6,"x":90,"y":125},{"p":"d","i":6,"x":70,"y":140},{"p":"d","i":6,"x":45,"y":150},{"p":"d","i":6,"x":20,"y":145},{"p":"d","i":6,"x":10,"y":125},{"p":"d","i":6,"x":25,"y":105},{"p":"d","i":6,"x":45,"y":95},{"p":"d","i":6,"x":60,"y":110},{"p":"d","i":6,"x":80,"y":120},
{"p":"d","i":7,"x":-5,"y":60},{"p":"d","i":7,"x":-30,"y":70},{"p":"d","i":7,"x":-50,"y":90},{"p":"d","i":7,"x":-45,"y":115},{"p":"d","i":7,"x":-25,"y":140},{"p":"d","i":7,"x":5,"y":160},{"p":"d","i":7,"x":35,"y":165},{"p":"d","i":7,"x":60,"y":150},{"p":"d","i":7,"x":70,"y":130},{"p":"d","i":7,"x":65,"y":105},
{"p":"d","i":8,"x":0,"y":8},{"p":"d","i":8,"x":-10,"y":25},{"p":"d","i":8,"x":-30,"y":40},{"p":"d","i":8,"x":-45,"y":60},{"p":"d","i":8,"x":-50,"y":85},{"p":"d","i":8,"x":-40,"y":105},{"p":"d","i":8,"x":-20,"y":115},{"p":"d","i":8,"x":5,"y":115},{"p":"d","i":8,"x":25,"y":105},{"p":"d","i":8,"x":35,"y":85},{"p":"d","i":8,"x":30,"y":65},{"p":"d","i":8,"x":15,"y":45},{"p":"d","i":8,"x":5,"y":25},
{"p":"d","i":9,"x":-20,"y":50},{"p":"d","i":9,"x":-50,"y":50},{"p":"d","i":9,"x":-80,"y":65},{"p":"d","i":9,"x":-88,"y":90},{"p":"d","i":9,"x":-80,"y":115},{"p":"d","i":9,"x":-60,"y":130},{"p":"d","i":9,"x":-35,"y":150},{"p":"d","i":9,"x":-10,"y":160},{"p":"d","i":9,"x":20,"y":165},{"p":"d","i":9,"x":50,"y":160},{"p":"d","i":9,"x":75,"y":150},{"p":"d","i":9,"x":95,"y":135},{"p":"d","i":9,"x":105,"y":110},{"p":"d","i":9,"x":100,"y":85},{"p":"d","i":9,"x":85,"y":65},{"p":"d","i":9,"x":60,"y":55},{"p":"d","i":9,"x":35,"y":55},{"p":"d","i":9,"x":10,"y":65},
{"p":"d","i":10,"x":10,"y":10},{"p":"d","i":10,"x":35,"y":15},{"p":"d","i":10,"x":55,"y":25},{"p":"d","i":10,"x":60,"y":40},{"p":"d","i":10,"x":50,"y":55},{"p":"d","i":10,"x":30,"y":60},{"p":"d","i":10,"x":10,"y":70},{"p":"d","i":10,"x":-5,"y":90},{"p":"d","i":10,"x":0,"y":110},{"p":"d","i":10,"x":20,"y":125},{"p":"d","i":10,"x":45,"y":130},{"p":"d","i":10,"x":65,"y":120},{"p":"d","i":10,"x":80,"y":100},{"p":"d","i":10,"x":85,"y":80},
{"p":"d","i":20,"x":0,"y":10},{"p":"d","i":20,"x":-30,"y":30},{"p":"d","i":20,"x":40,"y":45},{"p":"d","i":20,"x":-55,"y":60},{"p":"d","i":20,"x":60,"y":70},{"p":"d","i":20,"x":-65,"y":85},{"p":"d","i":20,"x":70,"y":95},{"p":"d","i":20,"x":-60,"y":110},{"p":"d","i":20,"x":65,"y":125},{"p":"d","i":20,"x":-50,"y":140},{"p":"d","i":20,"x":45,"y":150},{"p":"d","i":20,"x":-25,"y":160},
{"p":"d","i":21,"x":5,"y":20},{"p":"d","i":21,"x":30,"y":40},{"p":"d","i":21,"x":-40,"y":55},{"p":"d","i":21,"x":55,"y":80},{"p":"d","i":21,"x":-60,"y":100},{"p":"d","i":21,"x":70,"y":115},{"p":"d","i":21,"x":-45,"y":130},{"p":"d","i":21,"x":50,"y":140},{"p":"d","i":21,"x":-20,"y":155},
{"p":"d","i":0,"x":1,"y":8},{"p":"d","i":0,"x":4,"y":20},{"p":"d","i":0,"x":1,"y":27},{"p":"d","i":0,"x":-8,"y":37},{"p":"d","i":0,"x":-13,"y":45},{"p":"d","i":0,"x":-14,"y":62},{"p":"d","i":0,"x":-12,"y":75},{"p":"d","i":0,"x":-13,"y":85},{"p":"d","i":0,"x":-6,"y":93},{"p":"d","i":0,"x":2,"y":97},{"p":"d","i":0,"x":1,"y":100},{"p":"d","i":0,"x":-13,"y":102},{"p":"d","i":0,"x":-26,"y":102},{"p":"d","i":0,"x":-34,"y":97},{"p":"d","i":0,"x":-43,"y":90},{"p":"d","i":0,"x":-53,"y":87},{"p":"d","i":0,"x":-66,"y":88},{"p":"d","i":0,"x":-79,"y":88},{"p":"d","i":0,"x":-84,"y":82},{"p":"d","i":0,"x":-79,"y":73},{"p":"d","i":0,"x":-63,"y":65},{"p":"d","i":0,"x":-46,"y":67},{"p":"d","i":0,"x":-33,"y":72},{"p":"d","i":0,"x":-14,"y":73},{"p":"d","i":0,"x":7,"y":77},{"p":"d","i":0,"x":21,"y":83},{"p":"d","i":0,"x":34,"y":83},{"p":"d","i":0,"x":42,"y":80},{"p":"d","i":0,"x":47,"y":77},{"p":"d","i":0,"x":61,"y":78},{"p":"d","i":0,"x":74,"y":80},{"p":"d","i":0,"x":79,"y":92},{"p":"d","i":0,"x":84,"y":103},{"p":"d","i":0,"x":76,"y":110},{"p":"d","i":0,"x":61,"y":115},{"p":"d","i":0,"x":51,"y":120},{"p":"d","i":0,"x":47,"y":127},{"p":"d","i":0,"x":37,"y":128},{"p":"d","i":0,"x":27,"y":128},

{"p":"e","i":1,"x":-5,"y":5},{"p":"e","i":1,"x":-20,"y":-10},{"p":"e","i":1,"x":-40,"y":-15},{"p":"e","i":1,"x":-62,"y":-8},{"p":"e","i":1,"x":-72,"y":-25},{"p":"e","i":1,"x":-78,"y":-50},{"p":"e","i":1,"x":-87,"y":-75},{"p":"e","i":1,"x":-75,"y":-90},{"p":"e","i":1,"x":-62,"y":-100},{"p":"e","i":1,"x":-55,"y":-118},{"p":"e","i":1,"x":-54,"y":-140},{"p":"e","i":1,"x":-53,"y":-158},{"p":"e","i":1,"x":-45,"y":-150},{"p":"e","i":1,"x":-40,"y":-125},{"p":"e","i":1,"x":-30,"y":-105},{"p":"e","i":1,"x":-15,"y":-90},{"p":"e","i":1,"x":-5,"y":-70},{"p":"e","i":1,"x":0,"y":-40},{"p":"e","i":1,"x":-2,"y":-15},{"p":"e","i":1,"x":0,"y":5},
{"p":"e","i":2,"x":2,"y":5},{"p":"e","i":2,"x":8,"y":-20},{"p":"e","i":2,"x":15,"y":-45},{"p":"e","i":2,"x":25,"y":-65},{"p":"e","i":2,"x":38,"y":-85},{"p":"e","i":2,"x":48,"y":-105},{"p":"e","i":2,"x":52,"y":-128},{"p":"e","i":2,"x":58,"y":-148},{"p":"e","i":2,"x":75,"y":-152},{"p":"e","i":2,"x":85,"y":-150},{"p":"e","i":2,"x":65,"y":-145},{"p":"e","i":2,"x":55,"y":-125},{"p":"e","i":2,"x":45,"y":-100},{"p":"e","i":2,"x":30,"y":-75},{"p":"e","i":2,"x":15,"y":-55},{"p":"e","i":2,"x":10,"y":-30},{"p":"e","i":2,"x":5,"y":-10},
{"p":"e","i":3,"x":-3,"y":-10},{"p":"e","i":3,"x":-10,"y":-40},{"p":"e","i":3,"x":-15,"y":-60},{"p":"e","i":3,"x":-20,"y":-80},{"p":"e","i":3,"x":-8,"y":-88},{"p":"e","i":3,"x":0,"y":-110},{"p":"e","i":3,"x":-3,"y":-128},{"p":"e","i":3,"x":5,"y":-110},{"p":"e","i":3,"x":10,"y":-85},{"p":"e","i":3,"x":20,"y":-75},{"p":"e","i":3,"x":30,"y":-50},{"p":"e","i":3,"x":20,"y":-25},{"p":"e","i":3,"x":10,"y":0},{"p":"e","i":3,"x":0,"y":20},
{"p":"e","i":4,"x":10,"y":10},{"p":"e","i":4,"x":30,"y":0},{"p":"e","i":4,"x":50,"y":-20},{"p":"e","i":4,"x":70,"y":-40},{"p":"e","i":4,"x":90,"y":-60},{"p":"e","i":4,"x":100,"y":-58},{"p":"e","i":4,"x":104,"y":-30},{"p":"e","i":4,"x":102,"y":0},{"p":"e","i":4,"x":100,"y":25},{"p":"e","i":4,"x":108,"y":55},{"p":"e","i":4,"x":108,"y":80},{"p":"e","i":4,"x":95,"y":95},{"p":"e","i":4,"x":75,"y":105},{"p":"e","i":4,"x":55,"y":100},{"p":"e","i":4,"x":35,"y":90},{"p":"e","i":4,"x":20,"y":70},
{"p":"e","i":5,"x":-5,"y":10},{"p":"e","i":5,"x":-25,"y":20},{"p":"e","i":5,"x":-50,"y":25},{"p":"e","i":5,"x":-70,"y":30},{"p":"e","i":5,"x":-85,"y":45},{"p":"e","i":5,"x":-90,"y":70},{"p":"e","i":5,"x":-88,"y":95},{"p":"e","i":5,"x":-100,"y":112},{"p":"e","i":5,"x":-118,"y":124},{"p":"e","i":5,"x":-95,"y":120},{"p":"e","i":5,"x":-75,"y":110},{"p":"e","i":5,"x":-60,"y":120},{"p":"e","i":5,"x":-62,"y":145},{"p":"e","i":5,"x":-58,"y":165},{"p":"e","i":5,"x":-40,"y":175},{"p":"e","i":5,"x":-15,"y":180},{"p":"e","i":5,"x":10,"y":178},{"p":"e","i":5,"x":35,"y":170},{"p":"e","i":5,"x":55,"y":160},{"p":"e","i":5,"x":70,"y":140},{"p":"e","i":5,"x":75,"y":110},{"p":"e","i":5,"x":65,"y":80},{"p":"e","i":5,"x":50,"y":55},{"p":"e","i":5,"x":30,"y":35},{"p":"e","i":5,"x":10,"y":20},
{"p":"e","i":6,"x":-55,"y":150},{"p":"e","i":6,"x":-60,"y":175},{"p":"e","i":6,"x":-57,"y":200},{"p":"e","i":6,"x":-40,"y":215},{"p":"e","i":6,"x":-20,"y":225},{"p":"e","i":6,"x":15,"y":230},{"p":"e","i":6,"x":45,"y":230},{"p":"e","i":6,"x":70,"y":228},{"p":"e","i":6,"x":90,"y":210},{"p":"e","i":6,"x":100,"y":190},{"p":"e","i":6,"x":115,"y":170},{"p":"e","i":6,"x":100,"y":163},{"p":"e","i":6,"x":80,"y":160},{"p":"e","i":6,"x":60,"y":168},{"p":"e","i":6,"x":40,"y":175},{"p":"e","i":6,"x":20,"y":180},{"p":"e","i":6,"x":-5,"y":182},{"p":"e","i":6,"x":-30,"y":178},
{"p":"e","i":7,"x":0,"y":15},{"p":"e","i":7,"x":-25,"y":35},{"p":"e","i":7,"x":-45,"y":55},{"p":"e","i":7,"x":-60,"y":80},{"p":"e","i":7,"x":-55,"y":110},{"p":"e","i":7,"x":-40,"y":135},{"p":"e","i":7,"x":-15,"y":150},{"p":"e","i":7,"x":15,"y":150},{"p":"e","i":7,"x":40,"y":135},{"p":"e","i":7,"x":55,"y":110},{"p":"e","i":7,"x":55,"y":80},{"p":"e","i":7,"x":40,"y":55},{"p":"e","i":7,"x":20,"y":40},{"p":"e","i":7,"x":5,"y":50},{"p":"e","i":7,"x":-15,"y":70},{"p":"e","i":7,"x":-20,"y":100},{"p":"e","i":7,"x":-5,"y":125},{"p":"e","i":7,"x":20,"y":125},{"p":"e","i":7,"x":30,"y":100},{"p":"e","i":7,"x":20,"y":75},
{"p":"e","i":8,"x":-20,"y":160},{"p":"e","i":8,"x":-35,"y":172},{"p":"e","i":8,"x":-30,"y":185},{"p":"e","i":8,"x":-10,"y":193},{"p":"e","i":8,"x":20,"y":190},{"p":"e","i":8,"x":45,"y":185},{"p":"e","i":8,"x":55,"y":170},{"p":"e","i":8,"x":40,"y":160},{"p":"e","i":8,"x":20,"y":163},
{"p":"e","i":9,"x":-80,"y":50},{"p":"e","i":9,"x":-60,"y":40},{"p":"e","i":9,"x":-35,"y":35},{"p":"e","i":9,"x":-10,"y":40},{"p":"e","i":9,"x":20,"y":45},{"p":"e","i":9,"x":45,"y":60},{"p":"e","i":9,"x":60,"y":70},{"p":"e","i":9,"x":80,"y":75},{"p":"e","i":9,"x":90,"y":95},{"p":"e","i":9,"x":75,"y":120},{"p":"e","i":9,"x":55,"y":140},
{"p":"e","i":10,"x":0,"y":7},{"p":"e","i":10,"x":-8,"y":30},{"p":"e","i":10,"x":-20,"y":55},{"p":"e","i":10,"x":-35,"y":75},{"p":"e","i":10,"x":-50,"y":95},{"p":"e","i":10,"x":-45,"y":120},{"p":"e","i":10,"x":-30,"y":140},{"p":"e","i":10,"x":-10,"y":150},{"p":"e","i":10,"x":10,"y":145},{"p":"e","i":10,"x":25,"y":130},{"p":"e","i":10,"x":35,"y":110},{"p":"e","i":10,"x":30,"y":85},{"p":"e","i":10,"x":15,"y":60},{"p":"e","i":10,"x":5,"y":35},
{"p":"e","i":11,"x":0,"y":10},{"p":"e","i":11,"x":15,"y":35},{"p":"e","i":11,"x":30,"y":60},{"p":"e","i":11,"x":50,"y":80},{"p":"e","i":11,"x":65,"y":100},{"p":"e","i":11,"x":70,"y":125},{"p":"e","i":11,"x":60,"y":145},{"p":"e","i":11,"x":40,"y":160},{"p":"e","i":11,"x":15,"y":165},{"p":"e","i":11,"x":-10,"y":160},{"p":"e","i":11,"x":-35,"y":150},{"p":"e","i":11,"x":-55,"y":135},{"p":"e","i":11,"x":-65,"y":115},{"p":"e","i":11,"x":-70,"y":90},{"p":"e","i":11,"x":-60,"y":65},{"p":"e","i":11,"x":-40,"y":50},{"p":"e","i":11,"x":-20,"y":40},
{"p":"e","i":12,"x":-40,"y":60},{"p":"e","i":12,"x":-65,"y":65},{"p":"e","i":12,"x":-85,"y":80},{"p":"e","i":12,"x":-80,"y":105},{"p":"e","i":12,"x":-70,"y":125},{"p":"e","i":12,"x":-50,"y":140},{"p":"e","i":12,"x":-25,"y":145},{"p":"e","i":12,"x":0,"y":140},{"p":"e","i":12,"x":25,"y":130},{"p":"e","i":12,"x":45,"y":115},{"p":"e","i":12,"x":55,"y":95},{"p":"e","i":12,"x":50,"y":70},{"p":"e","i":12,"x":35,"y":50},{"p":"e","i":12,"x":15,"y":35},
{"p":"e","i":20,"x":0,"y":10},{"p":"e","i":20,"x":-25,"y":30},{"p":"e","i":20,"x":30,"y":45},{"p":"e","i":20,"x":-45,"y":60},{"p":"e","i":20,"x":45,"y":75},{"p":"e","i":20,"x":-60,"y":90},{"p":"e","i":20,"x":55,"y":105},{"p":"e","i":20,"x":-55,"y":120},{"p":"e","i":20,"x":50,"y":135},{"p":"e","i":20,"x":-40,"y":150},{"p":"e","i":20,"x":30,"y":160},
{"p":"e","i":21,"x":3,"y":20},{"p":"e","i":21,"x":25,"y":40},{"p":"e","i":21,"x":-30,"y":60},{"p":"e","i":21,"x":50,"y":80},{"p":"e","i":21,"x":-50,"y":100},{"p":"e","i":21,"x":60,"y":115},{"p":"e","i":21,"x":-35,"y":135},{"p":"e","i":21,"x":40,"y":150},
{"p":"e","i":0,"x":29,"y":150},{"p":"e","i":0,"x":23,"y":142},{"p":"e","i":0,"x":18,"y":136},{"p":"e","i":0,"x":9,"y":131},{"p":"e","i":0,"x":-1,"y":130},{"p":"e","i":0,"x":-6,"y":120},{"p":"e","i":0,"x":-9,"y":102},{"p":"e","i":0,"x":-13,"y":80},{"p":"e","i":0,"x":-16,"y":66},{"p":"e","i":0,"x":-16,"y":53},{"p":"e","i":0,"x":-7,"y":48},{"p":"e","i":0,"x":-1,"y":30},{"p":"e","i":0,"x":0,"y":7},
{"p":"e","i":-1,"x":-17,"y":64},{"p":"e","i":-1,"x":-29,"y":72},{"p":"e","i":-1,"x":-41,"y":80},{"p":"e","i":-1,"x":-54,"y":87},{"p":"e","i":-1,"x":-64,"y":94},{"p":"e","i":-1,"x":-62,"y":104},{"p":"e","i":-1,"x":-57,"y":115},{"p":"e","i":-1,"x":-47,"y":122},{"p":"e","i":-1,"x":-39,"y":126},{"p":"e","i":-1,"x":-32,"y":135},{"p":"e","i":-1,"x":-37,"y":140},{"p":"e","i":-1,"x":-48,"y":142},{"p":"e","i":-1,"x":-51,"y":151},{"p":"e","i":-1,"x":-46,"y":160},{"p":"e","i":-1,"x":-31,"y":164},{"p":"e","i":-1,"x":-16,"y":163},{"p":"e","i":-1,"x":-13,"y":155},{"p":"e","i":-1,"x":-19,"y":146},{"p":"e","i":-1,"x":-27,"y":139},{"p":"e","i":-1,"x":-21,"y":135},{"p":"e","i":-1,"x":-17,"y":124},{"p":"e","i":-1,"x":-19,"y":102},{"p":"e","i":-1,"x":-20,"y":84},{"p":"e","i":-1,"x":-17,"y":64},

{"p":"f","i":1,"x":0,"y":6},{"p":"f","i":1,"x":-10,"y":-15},{"p":"f","i":1,"x":-20,"y":-40},{"p":"f","i":1,"x":-28,"y":-60},{"p":"f","i":1,"x":-30,"y":-85},{"p":"f","i":1,"x":-25,"y":-105},{"p":"f","i":1,"x":-20,"y":-125},{"p":"f","i":1,"x":-10,"y":-118},{"p":"f","i":1,"x":-5,"y":-95},{"p":"f","i":1,"x":0,"y":-70},{"p":"f","i":1,"x":5,"y":-45},{"p":"f","i":1,"x":8,"y":-20},{"p":"f","i":1,"x":5,"y":0},
{"p":"f","i":2,"x":15,"y":10},{"p":"f","i":2,"x":25,"y":-15},{"p":"f","i":2,"x":35,"y":-40},{"p":"f","i":2,"x":45,"y":-65},{"p":"f","i":2,"x":55,"y":-90},{"p":"f","i":2,"x":52,"y":-112},{"p":"f","i":2,"x":42,"y":-125},{"p":"f","i":2,"x":30,"y":-120},{"p":"f","i":2,"x":25,"y":-100},{"p":"f","i":2,"x":32,"y":-80},{"p":"f","i":2,"x":40,"y":-60},{"p":"f","i":2,"x":55,"y":-40},{"p":"f","i":2,"x":70,"y":-20},{"p":"f","i":2,"x":78,"y":0},{"p":"f","i":2,"x":80,"y":20},
{"p":"f","i":3,"x":-5,"y":5},{"p":"f","i":3,"x":-25,"y":-15},{"p":"f","i":3,"x":-45,"y":-20},{"p":"f","i":3,"x":-58,"y":-35},{"p":"f","i":3,"x":-50,"y":-45},{"p":"f","i":3,"x":-30,"y":-40},{"p":"f","i":3,"x":-15,"y":-30},{"p":"f","i":3,"x":-5,"y":-15},{"p":"f","i":3,"x":5,"y":-5},
{"p":"f","i":4,"x":50,"y":-115},{"p":"f","i":4,"x":62,"y":-95},{"p":"f","i":4,"x":72,"y":-68},{"p":"f","i":4,"x":85,"y":-45},{"p":"f","i":4,"x":95,"y":-25},{"p":"f","i":4,"x":105,"y":0},{"p":"f","i":4,"x":107,"y":25},{"p":"f","i":4,"x":105,"y":50},{"p":"f","i":4,"x":110,"y":70},{"p":"f","i":4,"x":125,"y":85},{"p":"f","i":4,"x":136,"y":108},{"p":"f","i":4,"x":128,"y":115},{"p":"f","i":4,"x":112,"y":118},{"p":"f","i":4,"x":100,"y":135},{"p":"f","i":4,"x":95,"y":155},{"p":"f","i":4,"x":80,"y":175},{"p":"f","i":4,"x":72,"y":205},
{"p":"f","i":5,"x":-10,"y":10},{"p":"f","i":5,"x":-40,"y":15},{"p":"f","i":5,"x":-70,"y":18},{"p":"f","i":5,"x":-100,"y":22},{"p":"f","i":5,"x":-122,"y":30},{"p":"f","i":5,"x":-128,"y":55},{"p":"f","i":5,"x":-126,"y":85},{"p":"f","i":5,"x":-120,"y":115},{"p":"f","i":5,"x":-118,"y":150},{"p":"f","i":5,"x":-105,"y":170},{"p":"f","i":5,"x":-95,"y":190},{"p":"f","i":5,"x":-90,"y":210},{"p":"f","i":5,"x":-84,"y":235},{"p":"f","i":5,"x":-60,"y":248},{"p":"f","i":5,"x":-30,"y":255},{"p":"f","i":5,"x":0,"y":253},{"p":"f","i":5,"x":12,"y":250},{"p":"f","i":5,"x":30,"y":240},{"p":"f","i":5,"x":52,"y":230},{"p":"f","i":5,"x":70,"y":212},{"p":"f","i":5,"x":80,"y":188},
{"p":"f","i":6,"x":0,"y":15},{"p":"f","i":6,"x":-25,"y":30},{"p":"f","i":6,"x":-50,"y":45},{"p":"f","i":6,"x":-75,"y":60},{"p":"f","i":6,"x":-90,"y":90},{"p":"f","i":6,"x":-88,"y":125},{"p":"f","i":6,"x":-75,"y":160},{"p":"f","i":6,"x":-50,"y":185},{"p":"f","i":6,"x":-20,"y":200},{"p":"f","i":6,"x":10,"y":205},{"p":"f","i":6,"x":40,"y":195},{"p":"f","i":6,"x":65,"y":175},{"p":"f","i":6,"x":85,"y":140},{"p":"f","i":6,"x":90,"y":105},{"p":"f","i":6,"x":85,"y":70},{"p":"f","i":6,"x":65,"y":45},{"p":"f","i":6,"x":40,"y":28},{"p":"f","i":6,"x":15,"y":20},
{"p":"f","i":7,"x":-5,"y":30},{"p":"f","i":7,"x":-30,"y":50},{"p":"f","i":7,"x":-55,"y":75},{"p":"f","i":7,"x":-65,"y":105},{"p":"f","i":7,"x":-60,"y":140},{"p":"f","i":7,"x":-40,"y":170},{"p":"f","i":7,"x":-10,"y":185},{"p":"f","i":7,"x":20,"y":190},{"p":"f","i":7,"x":50,"y":175},{"p":"f","i":7,"x":70,"y":150},{"p":"f","i":7,"x":75,"y":115},{"p":"f","i":7,"x":60,"y":85},{"p":"f","i":7,"x":35,"y":65},{"p":"f","i":7,"x":10,"y":55},{"p":"f","i":7,"x":-10,"y":70},{"p":"f","i":7,"x":-25,"y":100},{"p":"f","i":7,"x":-20,"y":130},{"p":"f","i":7,"x":0,"y":150},{"p":"f","i":7,"x":30,"y":150},{"p":"f","i":7,"x":50,"y":130},
{"p":"f","i":8,"x":-60,"y":180},{"p":"f","i":8,"x":-70,"y":200},{"p":"f","i":8,"x":-65,"y":220},{"p":"f","i":8,"x":-55,"y":245},{"p":"f","i":8,"x":-52,"y":270},{"p":"f","i":8,"x":-45,"y":290},{"p":"f","i":8,"x":-34,"y":298},{"p":"f","i":8,"x":-44,"y":318},{"p":"f","i":8,"x":-31,"y":320},
{"p":"f","i":9,"x":-80,"y":140},{"p":"f","i":9,"x":-95,"y":165},{"p":"f","i":9,"x":-85,"y":195},{"p":"f","i":9,"x":-60,"y":220},{"p":"f","i":9,"x":-30,"y":230},{"p":"f","i":9,"x":0,"y":232},{"p":"f","i":9,"x":30,"y":225},{"p":"f","i":9,"x":55,"y":215},{"p":"f","i":9,"x":75,"y":195},{"p":"f","i":9,"x":95,"y":160},{"p":"f","i":9,"x":100,"y":130},{"p":"f","i":9,"x":90,"y":100},
{"p":"f","i":10,"x":0,"y":6},{"p":"f","i":10,"x":10,"y":25},{"p":"f","i":10,"x":15,"y":50},{"p":"f","i":10,"x":10,"y":75},{"p":"f","i":10,"x":-5,"y":95},{"p":"f","i":10,"x":-25,"y":110},{"p":"f","i":10,"x":-40,"y":130},{"p":"f","i":10,"x":-35,"y":155},{"p":"f","i":10,"x":-15,"y":170},{"p":"f","i":10,"x":10,"y":175},{"p":"f","i":10,"x":35,"y":165},{"p":"f","i":10,"x":55,"y":145},{"p":"f","i":10,"x":60,"y":120},{"p":"f","i":10,"x":50,"y":95},{"p":"f","i":10,"x":35,"y":75},{"p":"f","i":10,"x":20,"y":55},
{"p":"f","i":11,"x":-10,"y":20},{"p":"f","i":11,"x":-35,"y":35},{"p":"f","i":11,"x":-60,"y":55},{"p":"f","i":11,"x":-80,"y":80},{"p":"f","i":11,"x":-95,"y":110},{"p":"f","i":11,"x":-100,"y":140},{"p":"f","i":11,"x":-90,"y":170},{"p":"f","i":11,"x":-70,"y":195},{"p":"f","i":11,"x":-40,"y":215},{"p":"f","i":11,"x":-10,"y":225},{"p":"f","i":11,"x":25,"y":220},{"p":"f","i":11,"x":55,"y":205},{"p":"f","i":11,"x":80,"y":180},{"p":"f","i":11,"x":95,"y":150},{"p":"f","i":11,"x":100,"y":115},{"p":"f","i":11,"x":95,"y":80},{"p":"f","i":11,"x":80,"y":55},{"p":"f","i":11,"x":55,"y":40},{"p":"f","i":11,"x":30,"y":30},
{"p":"f","i":12,"x":-40,"y":-25},{"p":"f","i":12,"x":-30,"y":-5},{"p":"f","i":12,"x":-15,"y":10},{"p":"f","i":12,"x":-5,"y":30},{"p":"f","i":12,"x":5,"y":50},{"p":"f","i":12,"x":0,"y":75},{"p":"f","i":12,"x":-20,"y":90},{"p":"f","i":12,"x":-45,"y":100},{"p":"f","i":12,"x":-60,"y":120},{"p":"f","i":12,"x":-55,"y":150},{"p":"f","i":12,"x":-35,"y":170},
{"p":"f","i":20,"x":0,"y":10},{"p":"f","i":20,"x":-25,"y":30},{"p":"f","i":20,"x":35,"y":45},{"p":"f","i":20,"x":-50,"y":65},{"p":"f","i":20,"x":55,"y":80},{"p":"f","i":20,"x":-65,"y":100},{"p":"f","i":20,"x":70,"y":120},{"p":"f","i":20,"x":-70,"y":140},{"p":"f","i":20,"x":65,"y":160},{"p":"f","i":20,"x":-55,"y":180},{"p":"f","i":20,"x":45,"y":195},{"p":"f","i":20,"x":-25,"y":205},
{"p":"f","i":21,"x":5,"y":20},{"p":"f","i":21,"x":25,"y":40},{"p":"f","i":21,"x":-35,"y":60},{"p":"f","i":21,"x":60,"y":85},{"p":"f","i":21,"x":-60,"y":110},{"p":"f","i":21,"x":75,"y":130},{"p":"f","i":21,"x":-65,"y":155},{"p":"f","i":21,"x":55,"y":175},{"p":"f","i":21,"x":-35,"y":195},{"p":"f","i":21,"x":20,"y":205},
{"p":"f","i":0,"x":52,"y":-143},{"p":"f","i":0,"x":56,"y":-138},{"p":"f","i":0,"x":56,"y":-131},{"p":"f","i":0,"x":51,"y":-131},{"p":"f","i":0,"x":49,"y":-136},{"p":"f","i":0,"x":46,"y":-128},{"p":"f","i":0,"x":42,"y":-122},{"p":"f","i":0,"x":36,"y":-117},{"p":"f","i":0,"x":29,"y":-122},{"p":"f","i":0,"x":21,"y":-121},{"p":"f","i":0,"x":17,"y":-111},{"p":"f","i":0,"x":21,"y":-97},{"p":"f","i":0,"x":24,"y":-73},{"p":"f","i":0,"x":31,"y":-50},{"p":"f","i":0,"x":27,"y":-36},{"p":"f","i":0,"x":24,"y":-16},{"p":"f","i":0,"x":19,"y":4},{"p":"f","i":0,"x":17,"y":14},{"p":"f","i":0,"x":22,"y":35},{"p":"f","i":0,"x":23,"y":58},{"p":"f","i":0,"x":24,"y":85},{"p":"f","i":0,"x":22,"y":109},{"p":"f","i":0,"x":19,"y":124},{"p":"f","i":0,"x":32,"y":124},{"p":"f","i":0,"x":49,"y":121},{"p":"f","i":0,"x":59,"y":106},{"p":"f","i":0,"x":61,"y":85},{"p":"f","i":0,"x":64,"y":72},{"p":"f","i":0,"x":66,"y":65},{"p":"f","i":0,"x":79,"y":67},{"p":"f","i":0,"x":72,"y":63},{"p":"f","i":0,"x":66,"y":62},{"p":"f","i":0,"x":59,"y":65},{"p":"f","i":0,"x":46,"y":65},{"p":"f","i":0,"x":32,"y":72},{"p":"f","i":0,"x":19,"y":79},{"p":"f","i":0,"x":6,"y":85},{"p":"f","i":0,"x":-8,"y":96},{"p":"f","i":0,"x":-14,"y":109},{"p":"f","i":0,"x":-24,"y":113},{"p":"f","i":0,"x":-28,"y":109},{"p":"f","i":0,"x":-33,"y":102},{"p":"f","i":0,"x":-28,"y":85},{"p":"f","i":0,"x":-23,"y":65},{"p":"f","i":0,"x":-14,"y":52},{"p":"f","i":0,"x":-4,"y":38},{"p":"f","i":0,"x":6,"y":25},{"p":"f","i":0,"x":16,"y":14},{"p":"f","i":0,"x":4,"y":9},{"p":"f","i":0,"x":1,"y":6}
]},
"transform":[{"lookup":"p","from":{"data":{"values":[{"p":"a","row":0,"col":0},{"p":"b","row":0,"col":1},{"p":"c","row":0,"col":2},{"p":"d","row":1,"col":0},{"p":"e","row":1,"col":1},{"p":"f","row":1,"col":2}]},"key":"p","fields":["row","col"]}}],
"facet":{"row":{"field":"row","type":"ordinal","header":{"labels":false,"title":null}},"column":{"field":"col","type":"ordinal","header":{"labels":false,"title":null}}},
"spacing":0,
"bounds":"flush",
"spec":{
"width":377,"height":762,
"encoding":{
"x":{"field":"x","type":"quantitative","scale":{"domain":[-188,189],"nice":false,"zero":false},"axis":null},
"y":{"field":"y","type":"quantitative","scale":{"domain":[-416,346],"reverse":true,"nice":false,"zero":false},"axis":null}
},
"layer":[
{"transform":[{"filter":"datum.k === 'r'"}],"mark":{"type":"rect","fill":"#b3b3b3","stroke":null},"encoding":{"x2":{"field":"x2"},"y2":{"field":"y2"}}},
{"transform":[{"filter":"datum.k === 'c'"}],"mark":{"type":"point","shape":"circle","filled":false,"size":12996,"stroke":"#000","strokeWidth":1.2,"opacity":1}},
{"transform":[{"filter":"datum.k === 'd'"}],"mark":{"type":"rule","stroke":"#222","strokeWidth":1.3,"strokeDash":[3,3]},"encoding":{"x2":{"field":"x2"}}},
{"transform":[{"filter":"datum.i > 0"}],"mark":{"type":"line","stroke":"#c8c8c8","strokeWidth":2.5,"strokeJoin":"round"},"encoding":{"detail":{"field":"i","type":"nominal"},"order":{"value":null}}},
{"transform":[{"filter":"datum.i <= 0"}],"mark":{"type":"line","stroke":"#000","strokeWidth":2.4,"strokeJoin":"round"},"encoding":{"detail":{"field":"i","type":"nominal"},"order":{"value":null}}},
{"transform":[{"filter":"datum.k === 'o'"}],"mark":{"type":"point","shape":"circle","filled":true,"fill":"#fff","stroke":"#000","strokeWidth":1,"size":49,"opacity":1}},
{"transform":[{"filter":"datum.k === 'x'"}],"mark":{"type":"point","shape":"M-1,-1L1,1M1,-1L-1,1","filled":false,"stroke":"#000","strokeWidth":4.5,"size":361,"opacity":1}},
{"transform":[{"filter":"datum.k === 's'"}],"mark":{"type":"rule","stroke":"#000","strokeWidth":3},"encoding":{"x2":{"field":"x2"}}},
{"transform":[{"filter":"datum.k === 'L'"}],"mark":{"type":"text","align":"left","baseline":"alphabetic","fontSize":23,"fontWeight":"bold","font":"Liberation Sans","color":"#000"},"encoding":{"text":{"field":"t"}}},
{"transform":[{"filter":"datum.k === 'T'"}],"mark":{"type":"text","align":"left","baseline":"alphabetic","fontSize":18,"font":"Liberation Sans","color":"#000"},"encoding":{"text":{"field":"t"}}},
{"transform":[{"filter":"datum.k === 'S'"}],"mark":{"type":"text","align":"left","baseline":"alphabetic","fontSize":9,"font":"Liberation Sans","color":"#000"},"encoding":{"text":{"field":"t"}}},
{"transform":[{"filter":"datum.k === 'M'"}],"mark":{"type":"text","align":"left","baseline":"alphabetic","fontSize":17,"font":"Liberation Sans","color":"#000"},"encoding":{"text":{"field":"t"}}},
{"transform":[{"filter":"datum.k === 'U'"}],"mark":{"type":"text","align":"center","baseline":"alphabetic","fontSize":16,"font":"Liberation Sans","color":"#000"},"encoding":{"text":{"field":"t"}}}
]
}
}
